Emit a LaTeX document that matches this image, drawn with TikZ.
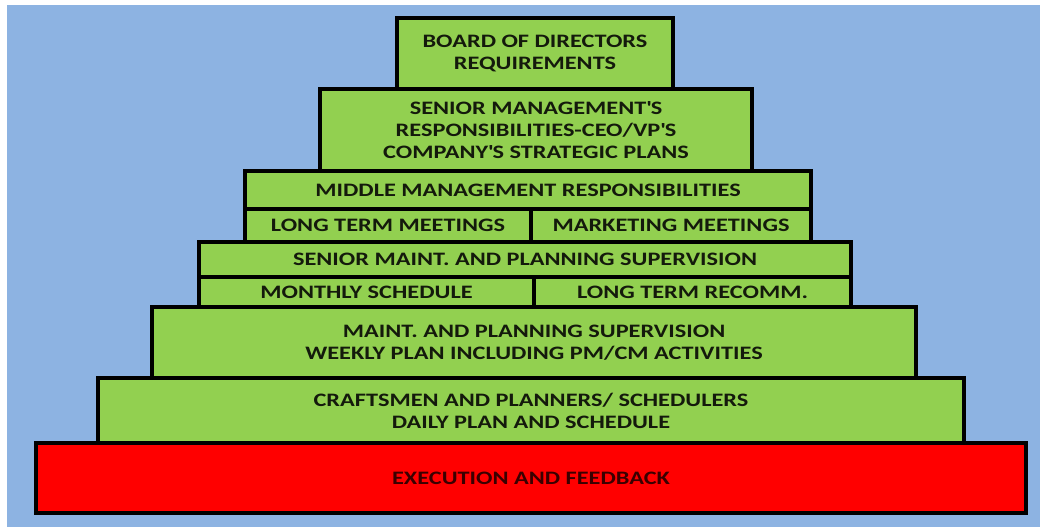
\documentclass[tikz,border=0pt]{standalone}
\usepackage{fontspec}
\setmainfont{Carlito}[FakeStretch=1.28]
\definecolor{sky}{HTML}{8DB3E2}
\definecolor{leaf}{HTML}{92D050}
\definecolor{ink}{HTML}{141A0C}
\definecolor{darkred}{HTML}{3A0000}
\newcommand{\apos}{\textquotesingle}
\begin{document}
\begin{tikzpicture}[x=1pt,y=-1pt,
  tier/.style={draw=black, line width=4pt, fill=leaf, inner sep=0pt,
    text=ink, font=\bfseries\fontsize{19}{22}\selectfont, align=center},
  base/.style={tier, fill=red, text=darkred}]
  \useasboundingbox (0,0) rectangle (1040,527);
  \fill[white] (0,0) rectangle (1040,527);
  \fill[sky] (7,5) rectangle (1040,527);

  % lower tiers first so the upper ones sit on top of the shared edges
  \node[base, minimum width=990pt, minimum height=70pt] (exec) at (531,478) {EXECUTION AND FEEDBACK};
  \node[tier, minimum width=866pt, minimum height=65pt] (craft) at (531,410.5)
    {CRAFTSMEN AND PLANNERS/ SCHEDULERS\\DAILY PLAN AND SCHEDULE};
  \node[tier, minimum width=764pt, minimum height=71pt] (weekly) at (534,342.5)
    {MAINT. AND PLANNING SUPERVISION\\WEEKLY PLAN INCLUDING PM/CM ACTIVITIES};
  \node[tier, minimum width=335pt, minimum height=30pt] (monthly) at (366.5,292) {MONTHLY SCHEDULE};
  \node[tier, minimum width=317pt, minimum height=30pt] (recomm) at (692.5,292) {LONG TERM RECOMM.};
  \node[tier, minimum width=652pt, minimum height=35pt] (smaint) at (525,259.5) {SENIOR MAINT. AND PLANNING SUPERVISION};
  \node[tier, minimum width=286pt, minimum height=33pt] (ltm) at (388,225.5) {LONG TERM MEETINGS};
  \node[tier, minimum width=280pt, minimum height=33pt] (mkt) at (671,225.5) {MARKETING MEETINGS};
  \node[tier, minimum width=566pt, minimum height=38pt] (middle) at (528,190) {MIDDLE MANAGEMENT RESPONSIBILITIES};
  \node[tier, minimum width=432pt, minimum height=82pt] (senior) at (536,130)
    {SENIOR MANAGEMENT\apos S\\RESPONSIBILITIES-CEO/VP\apos S\\COMPANY\apos S STRATEGIC PLANS};
  \node[tier, minimum width=276pt, minimum height=71pt] (board) at (535,53.5)
    {BOARD OF DIRECTORS\\REQUIREMENTS};
\end{tikzpicture}
\end{document}
